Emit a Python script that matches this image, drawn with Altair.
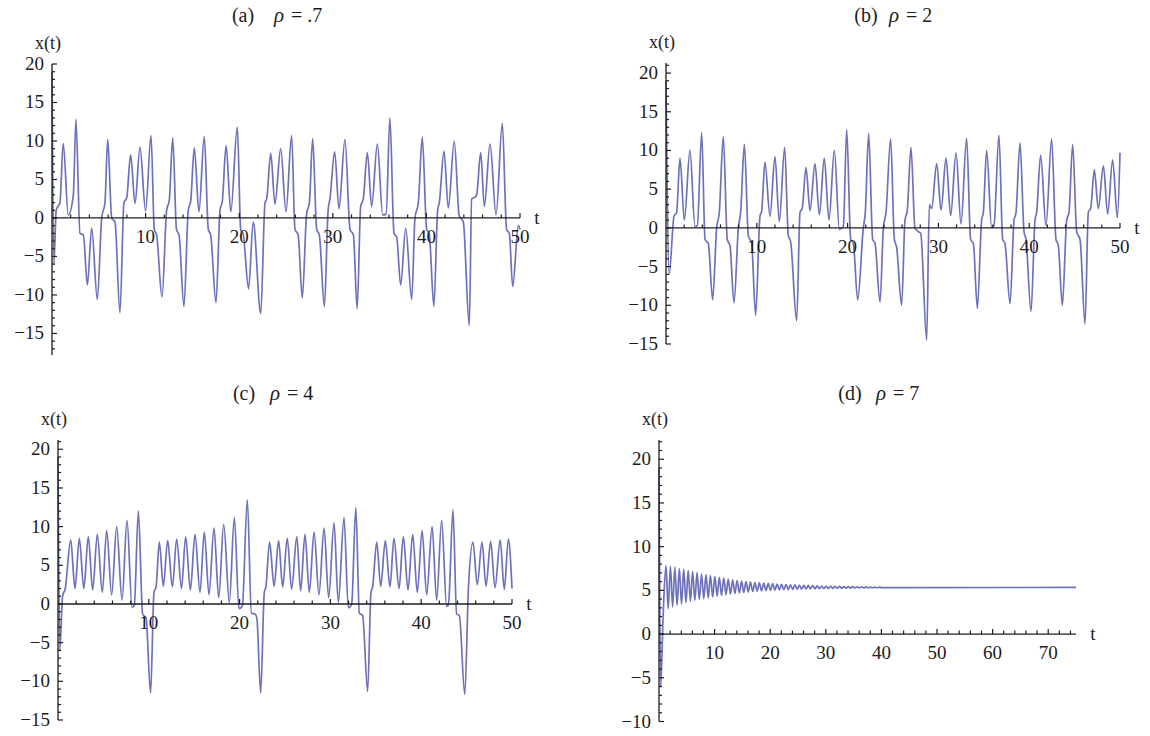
import math
import altair as alt
import pandas as pd

# ---------------- data ----------------
# panel (a) rho = .7 : (t, x(t)) extremes and shoulders
A_PTS = [(0, 19), (0.2, -6), (0.45, 1), (0.85, 2), (1.2, 9.7), (1.74, 0.4), (2.28, 3), (2.56, 12.8),
         (2.99, -2), (3.35, -2.2), (3.78, -8.7), (4.24, -1.3), (4.84, -10.6), (5.31, 0), (5.66, 2),
         (5.95, 10.2), (6.38, 0), (6.73, -0.5), (7.26, -12.3), (7.69, 2), (7.98, 2.6), (8.4, 8.2),
         (8.87, 1.9), (9.4, 9.2), (10.0, 0.9), (10.58, 10.7), (10.93, -1.5), (11.18, -2.2),
         (11.75, -10.3), (12.25, 1), (12.53, 2.3), (12.9, 10.4), (13.3, -1.5), (13.57, -2.2),
         (14.1, -11.5), (14.56, 1), (14.82, 2.2), (15.2, 9.1), (15.7, 0.8), (16.27, 10.6),
         (16.7, -1.5), (16.95, -2.2), (17.52, -11), (17.95, 1), (18.2, 2.2), (18.6, 9.4),
         (19.1, 0.8), (19.8, 11.8), (20.16, -1.5), (20.44, -2.2), (21.0, -9.2), (21.5, -0.5),
         (22.3, -12.4), (22.76, 2), (22.94, 2.5), (23.37, 8.4), (23.82, 1.8), (24.43, 9.0),
         (25.0, 0.8), (25.6, 10.7), (25.96, -1.5), (26.3, -2.2), (26.74, -10.4), (27.2, 0.5),
         (27.5, 2), (27.85, 10.3), (28.28, -1.5), (28.56, -2.2), (29.1, -11.5), (29.5, 1),
         (29.7, 2.5), (30.2, 8.6), (30.66, 1.2), (31.3, 10.2), (31.84, -1.5), (32.2, -2.2),
         (32.6, -11.8), (32.98, 1.5), (33.26, 2.5), (33.69, 8.5), (34.15, 1.5), (34.76, 9.6),
         (35.33, 0.4), (35.7, 0.5), (36.1, 13), (36.54, -2), (36.83, -2.5), (37.25, -8.7),
         (37.79, -1.3), (38.43, -10.6), (38.78, 0), (39.14, 2), (39.56, 10.5), (40.03, -1.5),
         (40.3, -2), (40.8, -11.5), (41.2, 1), (41.38, 2), (41.88, 8.7), (42.34, 1.3), (42.98, 10),
         (43.5, 0.3), (43.94, -0.5), (44.58, -14), (44.84, 2.5), (45.19, 2.7), (45.37, 3),
         (45.8, 8.5), (46.19, 1.5), (46.8, 9.6), (47.44, 0.4), (48.11, 12.3), (48.57, -1.5),
         (48.86, -2), (49.22, -8.9), (49.82, -1), (50, -1.5)]

# panel (b) rho = 2
B_PTS = [(0, 19), (0.35, -6), (0.88, 1.5), (1.17, 2), (1.54, 9), (2.02, 1), (2.64, 10), (3.19, 0.2),
         (3.45, 0.3), (3.93, 12.3), (4.3, -1.5), (4.66, -2), (5.14, -9.3), (5.58, 0), (5.87, 2),
         (6.31, 11.8), (6.75, -1.5), (7.05, -2.3), (7.49, -9.7), (7.97, 0), (8.22, 2), (8.63, 10.8),
         (9.07, -1), (9.43, -2), (9.87, -11.3), (10.35, 1.5), (10.54, 2.2), (10.9, 8.5),
         (11.45, 1.5), (12.0, 9.2), (12.48, 0.8), (13.07, 10.4), (13.47, -1), (13.73, -1.8),
         (14.39, -12), (14.76, 2), (15.0, 2.5), (15.42, 7.8), (15.86, 2.2), (16.41, 8.3),
         (16.89, 1.7), (17.43, 9), (17.95, 1), (18.54, 10), (19.09, -0.2), (19.53, 0.2),
         (19.9, 12.7), (20.34, -1.5), (20.63, -2), (21.11, -9.3), (21.73, 0), (21.95, 2),
         (22.32, 12.2), (22.76, -1.5), (23.02, -2), (23.57, -9.6), (23.94, 0), (24.23, 2),
         (24.74, 11.5), (25.15, -1.5), (25.4, -2.5), (25.95, -10), (26.32, 1), (26.57, 2.2),
         (26.98, 10.4), (27.42, 0), (27.79, -0.5), (28.05, -0.7), (28.71, -14.5), (29.0, 3),
         (29.26, 2.5), (29.81, 8.3), (30.29, 2.3), (30.84, 9), (31.35, 1.6), (31.94, 9.7),
         (32.49, 0.5), (33.11, 11.6), (33.55, -1.5), (33.85, -2), (34.29, -10.4), (34.76, 1),
         (34.95, 2), (35.31, 10), (35.86, 0.1), (36.12, 0.3), (36.67, 12), (37.08, -1.5),
         (37.33, -2), (37.89, -9.8), (38.33, 1), (38.55, 2), (38.99, 11), (39.43, -0.5),
         (39.65, -1.5), (40.2, -10.8), (40.64, 1), (40.82, 2), (41.26, 9.4), (41.85, 0.3),
         (42.47, 11.5), (42.95, -1.5), (43.2, -2.2), (43.65, -10), (44.13, 1), (44.38, 2),
         (44.79, 10.8), (45.23, -0.5), (45.6, -1.5), (46.15, -12.4), (46.51, 2), (46.77, 2.5),
         (47.17, 7.5), (47.61, 2.5), (48.17, 8), (48.64, 1.8), (49.19, 8.8), (49.71, 1.3),
         (50, 9.7)]

# panel (c) rho = 4
C_PTS = [(0, 19), (0.2, -6), (0.5, 1), (0.8, 2), (1.4, 8.3), (1.87, 2), (2.35, 8.5), (2.84, 2),
         (3.34, 8.7), (3.82, 1.8), (4.33, 9), (4.88, 1.5), (5.36, 9.5), (5.91, 1.2), (6.46, 10),
         (7.05, 0.5), (7.6, 10.8), (8.15, -0.4), (8.4, -0.2), (8.85, 12), (9.32, -1.3),
         (9.69, -1.8), (10.2, -11.5), (10.57, 1.5), (10.8, 2.2), (11.16, 8), (11.6, 2.3),
         (12.08, 8.2), (12.6, 2.2), (13.07, 8.4), (13.6, 2), (14.06, 8.7), (14.58, 1.8),
         (15.09, 9), (15.64, 1.5), (16.11, 9.3), (16.63, 1.2), (17.18, 9.8), (17.7, 0.8),
         (18.25, 10.3), (18.87, 0.2), (19.42, 11.2), (19.93, -0.6), (20.3, -0.3), (20.85, 13.5),
         (21.3, -1.2), (21.7, -1.3), (21.9, -1.8), (22.32, -11.5), (22.72, 1.5), (22.9, 2.2),
         (23.3, 8), (23.8, 2.3), (24.3, 8.2), (24.74, 2.2), (25.25, 8.5), (25.73, 1.9),
         (26.3, 8.7), (26.72, 1.7), (27.2, 9), (27.68, 1.5), (28.2, 9.3), (28.74, 1.2),
         (29.3, 9.8), (29.81, 0.8), (30.4, 10.5), (30.87, 0.2), (31.5, 11.2), (31.97, -0.5),
         (32.34, 0), (32.8, 12.5), (33.19, -1.2), (33.55, -1.5), (34.1, -11.3), (34.47, 1.5),
         (34.65, 2.2), (35.1, 8), (35.54, 2.3), (36.05, 8.2), (36.56, 2.2), (37.0, 8.5),
         (37.56, 2), (38.03, 8.7), (38.55, 1.8), (39.06, 9), (39.57, 1.5), (40.1, 9.5),
         (40.6, 1.2), (41.2, 10), (41.7, 0.5), (42.25, 10.8), (42.8, -0.3), (43.0, -0.1),
         (43.5, 12.2), (43.9, -1.3), (44.2, -1.5), (44.8, -11.7), (45.2, 2), (45.7, 8),
         (46.17, 2.5), (46.7, 8), (47.14, 2.3), (47.65, 8.1), (48.13, 2.1), (48.7, 8.3),
         (49.15, 1.9), (49.6, 8.4), (50, 2)]

# panel (d) rho = 7 : damped oscillation toward ~5.35
D_PTS = [(0, 19), (0.3, -6), (0.75, 2.2), (1.25, 7.85), (1.65, 2.9), (2.05, 7.75), (2.45, 3.1),
         (2.85, 7.65), (3.25, 3.3), (3.65, 7.5), (4.05, 3.45), (4.45, 7.4), (4.85, 3.6),
         (5.25, 7.25), (5.65, 3.75), (6.05, 7.15), (6.45, 3.85), (6.85, 7.05), (7.25, 3.95),
         (7.65, 6.9), (8.05, 4.05), (8.45, 6.8), (8.85, 4.15), (9.25, 6.7), (9.65, 4.25),
         (10.05, 6.6), (10.45, 4.33), (10.85, 6.5), (11.25, 4.42), (11.65, 6.4), (12.05, 4.5),
         (12.45, 6.3), (12.85, 4.57), (13.25, 6.2), (13.65, 4.64), (14.05, 6.12), (14.45, 4.7),
         (14.85, 6.05), (15.25, 4.76), (15.65, 6.0), (16.05, 4.82), (16.45, 5.95), (16.85, 4.87),
         (17.25, 5.9), (17.65, 4.91), (18.05, 5.86), (18.45, 4.95), (18.85, 5.82), (19.25, 4.98),
         (19.65, 5.79), (20.05, 5.0), (20.45, 5.76), (20.85, 5.03), (21.25, 5.73), (21.65, 5.05),
         (22.05, 5.7), (22.45, 5.07), (22.85, 5.67), (23.25, 5.09), (23.65, 5.64), (24.05, 5.11),
         (24.45, 5.62), (24.85, 5.13), (25.25, 5.6), (25.65, 5.15), (26.05, 5.58), (26.45, 5.16),
         (26.85, 5.56), (27.25, 5.17), (27.65, 5.54), (28.05, 5.18), (28.45, 5.52), (28.85, 5.19),
         (29.25, 5.5), (29.65, 5.2), (30.05, 5.49), (30.45, 5.21), (30.85, 5.47), (31.25, 5.22),
         (31.65, 5.46), (32.05, 5.23), (32.45, 5.45), (32.85, 5.24), (33.25, 5.44), (33.65, 5.25),
         (34.05, 5.43), (34.45, 5.26), (34.85, 5.42), (35.25, 5.27), (35.65, 5.41), (36.05, 5.28),
         (36.45, 5.4), (36.85, 5.28), (37.25, 5.39), (37.65, 5.29), (38.05, 5.38), (38.45, 5.3),
         (38.85, 5.38), (39.25, 5.3), (39.65, 5.37), (40.05, 5.31), (75, 5.34)]

Y_LABELS_ABC = [-15, -10, -5, 0, 5, 10, 15, 20]
Y_LABELS_D = [-10, -5, 0, 5, 10, 15, 20]
X_LABELS_ABC = [10, 20, 30, 40, 50]
X_LABELS_D = [10, 20, 30, 40, 50, 60, 70]
TITLE_TAGS = ["(a)", "(b)", "(c)", "(d)"]
TITLE_RHO = ["= .7", "= 2", "= 4", "= 7"]

# ---------------- styling ----------------
FONT = "Liberation Serif"
INK = "#1c1c1c"
LINE = "#5459ad"
ONE = pd.DataFrame({"k": [0]})


def fmt(v):
    return str(v).replace("-", "\u2212")


def panel(pts, t_dom, y_dom, x_rng, y_rng, y_labels, x_labels, tag, rho, title_x):
    sx = alt.Scale(domain=t_dom, range=x_rng, nice=False, zero=False)
    sy = alt.Scale(domain=y_dom, range=y_rng, nice=False, zero=False)
    X0 = alt.XDatum(0, scale=sx, axis=None)
    Y0 = alt.YDatum(0, scale=sy, axis=None)

    df = pd.DataFrame(pts, columns=["t", "x"])
    line = alt.Chart(df).mark_line(interpolate="monotone", color=LINE, strokeWidth=1.7,
                                   opacity=0.85).encode(
        x=alt.X("t:Q", scale=sx, axis=None), y=alt.Y("x:Q", scale=sy, axis=None))

    yaxis = alt.Chart(ONE).mark_rule(color=INK, strokeWidth=1.3).encode(
        x=X0, y=alt.YDatum(y_dom[0], scale=sy, axis=None), y2=alt.Y2Datum(y_dom[1]))
    xaxis = alt.Chart(ONE).mark_rule(color=INK, strokeWidth=1.3).encode(
        y=Y0, x=X0, x2=alt.X2Datum(t_dom[1]))

    y_minor = [v for v in range(math.ceil(y_dom[0]), math.floor(y_dom[1]) + 1) if v % 5 != 0]
    x_minor = [v for v in range(2, int(t_dom[1]) + 1, 2) if v % 10 != 0]

    ymaj = alt.Chart(pd.DataFrame({"v": y_labels})).mark_rule(color=INK, strokeWidth=1.2,
                                                              x2Offset=5).encode(
        x=X0, x2=alt.X2Datum(0), y=alt.Y("v:Q", scale=sy, axis=None))
    ymin = alt.Chart(pd.DataFrame({"v": y_minor})).mark_rule(color=INK, strokeWidth=1.2,
                                                             x2Offset=3).encode(
        x=X0, x2=alt.X2Datum(0), y=alt.Y("v:Q", scale=sy, axis=None))
    xmaj = alt.Chart(pd.DataFrame({"v": x_labels})).mark_rule(color=INK, strokeWidth=1.2,
                                                              y2Offset=-5).encode(
        y=Y0, y2=alt.Y2Datum(0), x=alt.X("v:Q", scale=sx, axis=None))
    xmin = alt.Chart(pd.DataFrame({"v": x_minor})).mark_rule(color=INK, strokeWidth=1.2,
                                                             y2Offset=-3.5).encode(
        y=Y0, y2=alt.Y2Datum(0), x=alt.X("v:Q", scale=sx, axis=None))

    ylab = alt.Chart(pd.DataFrame({"v": y_labels, "s": [fmt(v) for v in y_labels]})).mark_text(
        align="right", baseline="middle", dx=-8, font=FONT, fontSize=19, color=INK).encode(
        x=X0, y=alt.Y("v:Q", scale=sy, axis=None), text="s:N")
    xlab = alt.Chart(pd.DataFrame({"v": x_labels, "s": [str(v) for v in x_labels]})).mark_text(
        align="center", baseline="middle", dy=19, font=FONT, fontSize=19, color=INK).encode(
        x=alt.X("v:Q", scale=sx, axis=None), y=Y0, text="s:N")

    tlab = alt.Chart(ONE).mark_text(text="t", align="center", baseline="middle", dx=17,
                                    font=FONT, fontSize=19, color=INK).encode(
        x=alt.XDatum(t_dom[1], scale=sx, axis=None), y=Y0)
    xtlab = alt.Chart(ONE).mark_text(text="x(t)", align="center", baseline="middle", dx=-4, dy=-20,
                                     font=FONT, fontSize=18, color=INK).encode(
        x=X0, y=alt.YDatum(y_dom[1], scale=sy, axis=None))

    tx, rx, ex, ty = title_x
    t1 = alt.Chart(ONE).mark_text(text=tag, align="center", baseline="middle", font=FONT,
                                  fontSize=20, color=INK).encode(x=alt.value(tx), y=alt.value(ty))
    t2 = alt.Chart(ONE).mark_text(text="\u03c1", align="left", baseline="middle", font=FONT,
                                  fontStyle="italic", fontSize=21, color=INK).encode(
        x=alt.value(rx), y=alt.value(ty))
    t3 = alt.Chart(ONE).mark_text(text=rho, align="left", baseline="middle", font=FONT,
                                  fontSize=20, color=INK).encode(x=alt.value(ex), y=alt.value(ty))

    return alt.layer(line, yaxis, xaxis, ymaj, ymin, xmaj, xmin, ylab, xlab, tlab, xtlab, t1, t2, t3)


pa = panel(A_PTS, [0, 50], [-17.8, 20], [52, 520], [355, 64], Y_LABELS_ABC, X_LABELS_ABC,
           TITLE_TAGS[0], TITLE_RHO[0], (243, 274, 291, 16))
pb = panel(B_PTS, [0, 50], [-15, 21.3], [666, 1120], [344, 63], Y_LABELS_ABC, X_LABELS_ABC,
           TITLE_TAGS[1], TITLE_RHO[1], (866, 889, 906, 16))
pc = panel(C_PTS, [0, 50], [-15, 21.2], [58, 512], [720, 440], Y_LABELS_ABC, X_LABELS_ABC,
           TITLE_TAGS[2], TITLE_RHO[2], (244, 270, 287, 394))
pd_ = panel(D_PTS, [0, 75], [-10, 22.2], [659, 1076], [721.5, 440], Y_LABELS_D, X_LABELS_D,
            TITLE_TAGS[3], TITLE_RHO[3], (850, 876, 893, 394))

chart = alt.layer(pa, pb, pc, pd_).resolve_scale(x="independent", y="independent").properties(
    width=1150, height=736, padding=0, autosize=alt.AutoSizeParams(type="none"),
    background="white"
).configure_view(stroke=None)

chart.save("out.html", embed_options={"renderer": "svg", "actions": False})
